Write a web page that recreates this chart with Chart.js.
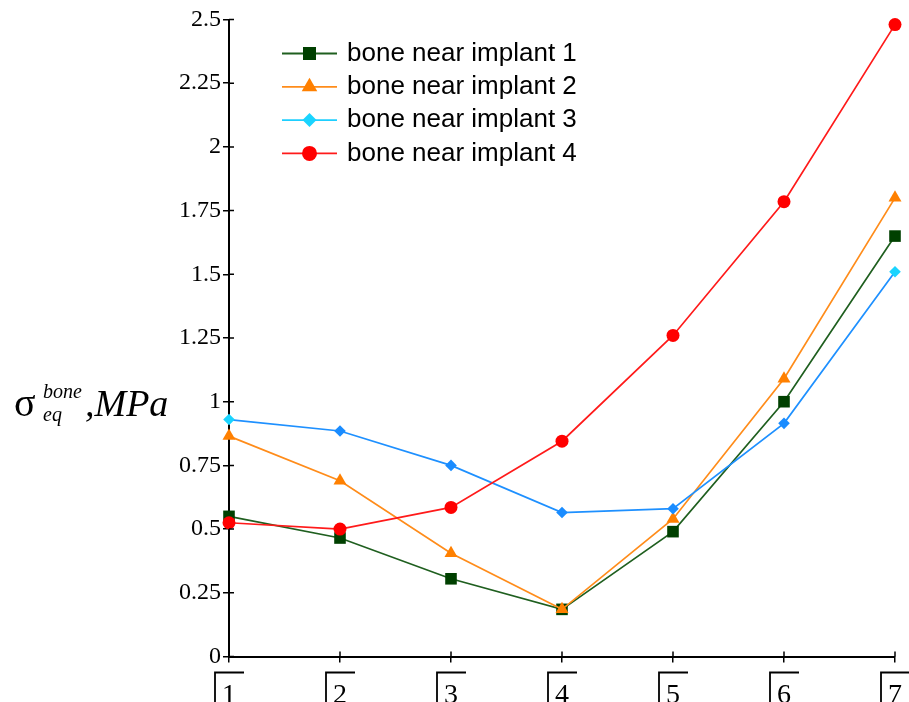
<!DOCTYPE html>
<html lang="en">
  <head>
    <meta charset="UTF-8" />
    <meta name="viewport" content="width=device-width, initial-scale=1.0" />
    <title>bone stress</title>
    <script src="https://cdn.jsdelivr.net/npm/chart.js"></script>
    <style>
      html, body { margin: 0; padding: 0; background: #fff; }
      .line-chart-container { width: 909px; height: 702px; }
    </style>
  </head>
  <body>
    <div class="line-chart-container">
      <canvas id="lineChart"></canvas>
    </div>
    <script>
      // chart data
      const positions = ["1", "2", "3", "4", "5", "6", "7"];
      const implant1 = [0.55, 0.465, 0.305, 0.185, 0.49, 1.0, 1.65];
      const implant2 = [0.865, 0.69, 0.405, 0.185, 0.54, 1.09, 1.8];
      const implant3 = [0.93, 0.885, 0.75, 0.565, 0.58, 0.915, 1.51];
      const implant4 = [0.525, 0.5, 0.585, 0.845, 1.26, 1.785, 2.48];
      const seriesNames = ["bone near implant 1", "bone near implant 2", "bone near implant 3", "bone near implant 4"];
      const yTicks = [0, 0.25, 0.5, 0.75, 1, 1.25, 1.5, 1.75, 2, 2.25, 2.5];

      const serif = "'Liberation Serif', 'Times New Roman', serif";
      const sans = "'Liberation Sans', Arial, sans-serif";

      // look of each series (line, marker, legend)
      const looks = [
        { line: "#1f5f1f", fill: "#004000", style: "rect", r: 8.2, legendR: 9.2, legendLine: "#1f5f1f" },
        { line: "#ff8c1a", fill: "#ff8000", style: "triangle", r: 7.5, legendR: 9, legendLine: "#ff8c1a" },
        { line: "#1e90ff", fill: "#1a8cff", style: "rectRot", r: 5.8, legendR: 7, legendLine: "#1ecfff" },
        { line: "#ff1a1a", fill: "#ff0000", style: "circle", r: 6.5, legendR: 7.5, legendLine: "#ff1a1a" },
      ];
      const endDiamond = "#1ad4ff";

      const drawMarker = (ctx, style, x, y, r, color) => {
        ctx.fillStyle = color;
        ctx.beginPath();
        if (style === "rect") {
          const s = r * Math.SQRT1_2;
          ctx.rect(x - s, y - s, 2 * s, 2 * s);
        } else if (style === "triangle") {
          ctx.moveTo(x, y - r);
          ctx.lineTo(x + r * 0.866, y + r * 0.5);
          ctx.lineTo(x - r * 0.866, y + r * 0.5);
          ctx.closePath();
        } else if (style === "rectRot") {
          ctx.moveTo(x, y - r);
          ctx.lineTo(x + r, y);
          ctx.lineTo(x, y + r);
          ctx.lineTo(x - r, y);
          ctx.closePath();
        } else {
          ctx.arc(x, y, r, 0, Math.PI * 2);
        }
        ctx.fill();
      };

      // extra drawing: crossing ticks, label brackets, axis title, legend
      const decorations = {
        id: "decorations",
        afterDraw(chart) {
          const { ctx, chartArea, scales } = chart;
          const xs = scales.x;
          const ys = scales.y;
          ctx.save();

          // inner half of tick marks
          ctx.strokeStyle = "#000";
          ctx.lineWidth = 1.5;
          ctx.beginPath();
          xs.ticks.forEach((t, i) => {
            const x = xs.getPixelForTick(i);
            ctx.moveTo(x, chartArea.bottom);
            ctx.lineTo(x, chartArea.bottom - 5);
          });
          ys.ticks.forEach((t, i) => {
            const y = ys.getPixelForTick(i);
            ctx.moveTo(chartArea.left, y);
            ctx.lineTo(chartArea.left + 5, y);
          });
          ctx.stroke();

          // brackets over x labels
          ctx.font = "28px " + serif;
          ctx.lineWidth = 1.8;
          xs.ticks.forEach((t, i) => {
            const x = xs.getPixelForTick(i);
            const w = ctx.measureText(String(t.label)).width;
            const top = chartArea.bottom + 16;
            ctx.beginPath();
            ctx.moveTo(x - w / 2 - 7, chart.height);
            ctx.lineTo(x - w / 2 - 7, top);
            ctx.lineTo(x + w / 2 + 8, top);
            ctx.stroke();
          });

          // y axis title
          const base = ys.getPixelForValue(1) + 14;
          ctx.fillStyle = "#000";
          ctx.textAlign = "left";
          ctx.textBaseline = "alphabetic";
          ctx.font = "40px " + serif;
          ctx.fillText("σ", 14, base);
          ctx.font = "italic 20px " + serif;
          ctx.fillText("bone", 43, base - 18);
          ctx.fillText("eq", 43, base + 5);
          ctx.font = "italic 38px " + serif;
          ctx.fillText(",MPa", 85, base);

          // legend
          const lx = chartArea.left + 53;
          looks.forEach((lk, i) => {
            const y = chartArea.top + 34 + i * 33.3;
            ctx.strokeStyle = lk.legendLine;
            ctx.lineWidth = 1.8;
            ctx.beginPath();
            ctx.moveTo(lx, y);
            ctx.lineTo(lx + 55, y);
            ctx.stroke();
            drawMarker(ctx, lk.style, lx + 27.5, y, lk.legendR, i === 2 ? endDiamond : lk.fill);
            ctx.fillStyle = "#000";
            ctx.font = "26px " + sans;
            ctx.textBaseline = "middle";
            ctx.fillText(seriesNames[i], lx + 65, y);
          });
          ctx.restore();
        },
      };

      const seriesValues = [implant1, implant2, implant3, implant4];
      const datasets = seriesValues.map((vals, i) => {
        const lk = looks[i];
        return {
          label: seriesNames[i],
          data: vals,
          borderColor: lk.line,
          borderWidth: 1.7,
          backgroundColor: lk.fill,
          pointBackgroundColor: i === 2 ? vals.map((v, j) => (j === 0 || j === vals.length - 1 ? endDiamond : lk.fill)) : lk.fill,
          pointBorderWidth: 0,
          pointStyle: lk.style,
          pointRadius: lk.r,
          pointHoverRadius: lk.r,
          tension: 0,
          clip: false,
          order: 4 - i,
        };
      });

      const ctx = document.getElementById("lineChart").getContext("2d");
      const lineChart = new Chart(ctx, {
        type: "line",
        data: { labels: positions, datasets: datasets },
        plugins: [decorations],
        options: {
          responsive: true,
          maintainAspectRatio: false,
          animation: false,
          layout: { padding: { left: 177, top: 19.5, right: 14, bottom: 0 } },
          plugins: {
            legend: { display: false },
            tooltip: { enabled: false },
          },
          scales: {
            x: {
              offset: false,
              grid: { drawOnChartArea: false, drawTicks: true, tickLength: 6, color: "#000", lineWidth: 1.5 },
              border: { color: "#000", width: 2 },
              ticks: { color: "#000", font: { family: serif, size: 28 }, padding: 16, maxRotation: 0 },
              afterFit: (scale) => {
                // the labels run off the bottom edge, as in the original
                scale.height = 45.5;
                scale.paddingLeft = 0;
                scale.paddingRight = 0;
              },
            },
            y: {
              min: 0,
              max: 2.5,
              afterBuildTicks: (axis) => {
                axis.ticks = yTicks.map((v) => ({ value: v }));
              },
              grid: { drawOnChartArea: false, drawTicks: true, tickLength: 6, color: "#000", lineWidth: 1.5 },
              border: { color: "#000", width: 2 },
              ticks: {
                color: "#000",
                font: { family: serif, size: 24 },
                padding: 2,
                callback: (v) => String(v),
              },
              afterFit: (scale) => {
                scale.width = 52;
                scale.paddingTop = 0;
                scale.paddingBottom = 0;
              },
            },
          },
        },
      });
    </script>
  </body>
</html>
